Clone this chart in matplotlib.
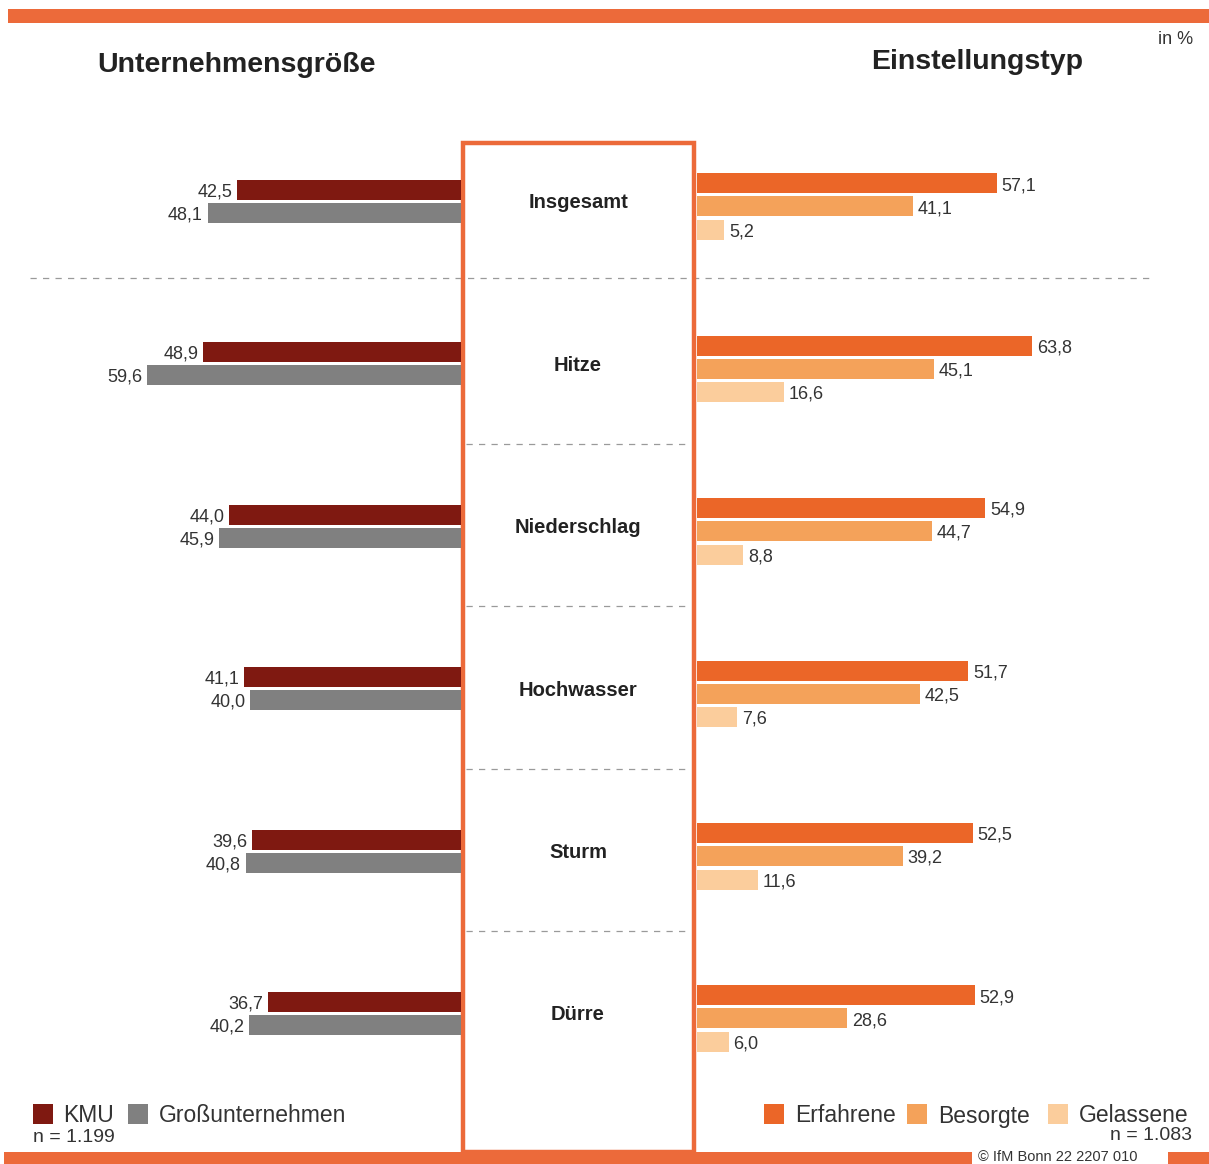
import matplotlib
matplotlib.use('Agg')
import matplotlib.pyplot as plt
from matplotlib.patches import Rectangle
from matplotlib import transforms

plt.rcParams['font.family'] = ['Liberation Sans', 'DejaVu Sans']

# data
categories = ['Insgesamt', 'Hitze', 'Niederschlag', 'Hochwasser', 'Sturm', 'Dürre']
kmu = [42.5, 48.9, 44.0, 41.1, 39.6, 36.7]
gross = [48.1, 59.6, 45.9, 40.0, 40.8, 40.2]
erfahrene = [57.1, 63.8, 54.9, 51.7, 52.5, 52.9]
besorgte = [41.1, 45.1, 44.7, 42.5, 39.2, 28.6]
gelassene = [5.2, 16.6, 8.8, 7.6, 11.6, 6.0]
left_labels = ['KMU', 'Großunternehmen']
right_labels = ['Erfahrene', 'Besorgte', 'Gelassene']

c_kmu, c_gross = '#7f1911', '#808080'
c_erf, c_bes, c_gel = '#eb6628', '#f4a25a', '#fbcd9c'
orange = '#ec6a3a'
txt = '#333333'

W, H = 1209, 1164
fig = plt.figure(figsize=(W / 100, H / 100), dpi=100)


def px_rect(x0, y0, x1, y1):
    return [x0 / W, 1 - y1 / H, (x1 - x0) / W, (y1 - y0) / H]


# background / decoration axes in pixel units
bg = fig.add_axes([0, 0, 1, 1])
bg.set_xlim(0, W)
bg.set_ylim(H, 0)
bg.axis('off')

bg.add_patch(Rectangle((8, 9), W - 8, 14, color=orange, lw=0))
bg.add_patch(Rectangle((4, 1152), W, 14, color=orange, lw=0))
bg.add_patch(Rectangle((972, 1150), 196, 16, color='white', lw=0))
bg.text(978, 1164, '© IfM Bonn 22 2207 010', fontsize=10.5, color=txt, va='bottom')
bg.add_patch(Rectangle((463, 143), 231, 1009, fill=False, ec=orange, lw=3.2, zorder=5))

bg.text(97, 65, 'Unternehmensgröße', fontsize=20.5, fontweight='bold', color='#222222', va='center')
bg.text(871, 62, 'Einstellungstyp', fontsize=20.5, fontweight='bold', color='#222222', va='center')
bg.text(1193, 40, 'in %', fontsize=13, color=txt, va='center', ha='right')

# dashed separators
bg.plot([30, 1155], [278, 278], ls=(0, (5, 5)), color='#9a9a9a', lw=0.9)
for yy in [444, 606, 769, 931]:
    bg.plot([466, 690], [yy, yy], ls=(0, (5, 5)), color='#9a9a9a', lw=0.9)

# legends
for x0, col, lab, tx in [(33, c_kmu, left_labels[0], 63), (128, c_gross, left_labels[1], 159)]:
    bg.add_patch(Rectangle((x0, 1104), 20, 20, color=col, lw=0))
    bg.text(tx, 1116, lab, fontsize=16.5, color=txt, va='center')
for x0, col, lab in [(764, c_erf, right_labels[0]), (907, c_bes, right_labels[1]),
                     (1048, c_gel, right_labels[2])]:
    bg.add_patch(Rectangle((x0, 1104), 20, 20, color=col, lw=0))
    bg.text(x0 + 31, 1116, lab, fontsize=16.5, color=txt, va='center')
bg.text(33, 1137, 'n = 1.199', fontsize=14, color=txt, va='center')
bg.text(1192, 1136, 'n = 1.083', fontsize=14, color=txt, va='center', ha='right')

# row geometry
row_px = 162.4
top_px = 201.5
ylim = ((H - top_px) / row_px, -top_px / row_px)
pos = list(range(len(categories)))
bh = 20 / row_px

# left axes
axl = fig.add_axes(px_rect(0, 0, 461, H))
axl.set_xlim(461 / 5.27, 0)
axl.set_ylim(*ylim)
axl.axis('off')
off = 11.5 / row_px
axl.barh([p - off for p in pos], kmu, height=bh, color=c_kmu)
axl.barh([p + off for p in pos], gross, height=bh, color=c_gross)
for p, a, b in zip(pos, kmu, gross):
    axl.annotate(f'{a:.1f}'.replace('.', ','), (a, p - off), xytext=(-3.5, -1.5), textcoords='offset points',
                 ha='right', va='center', fontsize=13, color=txt)
    axl.annotate(f'{b:.1f}'.replace('.', ','), (b, p + off), xytext=(-3.5, -1.5), textcoords='offset points',
                 ha='right', va='center', fontsize=13, color=txt)

tr = transforms.blended_transform_factory(axl.transAxes, axl.transData)
for p, c in zip(pos, categories):
    axl.text(578 / 461, p + 1.5 / row_px, c, transform=tr, ha='center', va='center', fontsize=14.5,
             fontweight='bold', color='#222222', clip_on=False)

# right axes
axr = fig.add_axes(px_rect(697, 0, W, H))
axr.set_xlim(0, 512 / 5.25)
axr.set_ylim(*ylim)
axr.axis('off')
shift = 5 / row_px
offs = [-23 / row_px, 0, 23.5 / row_px]
for vals, col, o in zip([erfahrene, besorgte, gelassene], [c_erf, c_bes, c_gel], offs):
    ys = [p + shift + o for p in pos]
    axr.barh(ys, vals, height=bh, color=col)
    for y, v in zip(ys, vals):
        axr.annotate(f'{v:.1f}'.replace('.', ','), (v, y), xytext=(3.5, -1.5), textcoords='offset points',
                     ha='left', va='center', fontsize=13, color=txt)

fig.savefig('out.png', dpi=100)
